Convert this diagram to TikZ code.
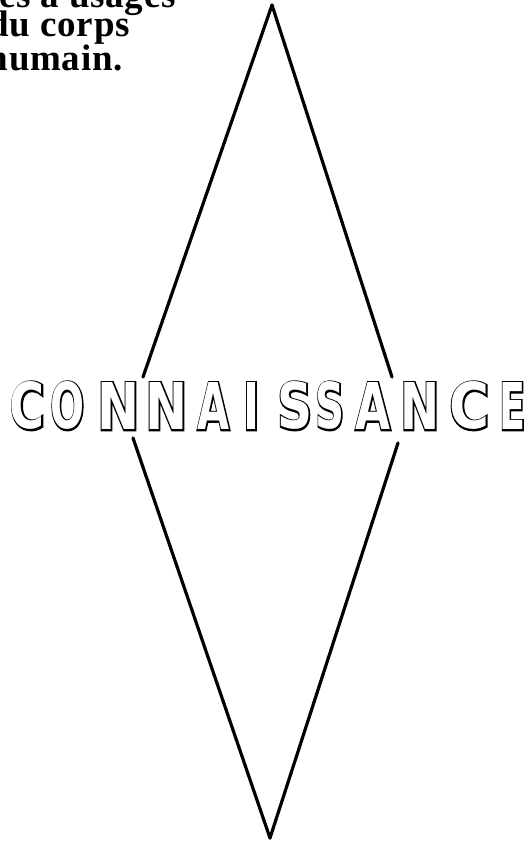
\documentclass[tikz,border=0pt]{standalone}
\usepackage{fontspec}
\setmainfont{Liberation Serif}
\newfontfamily\capsfont{DejaVu Sans Condensed Bold}
\newfontfamily\capsbold[FakeBold=5]{DejaVu Sans Condensed Bold}
\tikzset{
  side/.style={line width=3.2pt, line cap=round},
  topline/.style={font=\bfseries\fontsize{37}{32}\selectfont\addfontfeature{LetterSpace=2}, inner sep=0pt},
  letterback/.style={inner sep=0pt, anchor=south, text=black},
  letterfront/.style={inner sep=0pt, anchor=south, text=white}
}
\newcommand{\ltb}[2]{\resizebox{#1pt}{47pt}{\capsbold #2}}
\newcommand{\ltf}[2]{\resizebox{#1pt}{47pt}{\capsfont #2}}
\newcommand{\hollow}[4]{%
  \node[letterback] (#1b) at (#2,430) {\ltb{#3}{#4}};
  \node[letterfront] (#1) at (#2,430) {\ltf{#3}{#4}};}
\begin{document}
\begin{tikzpicture}[x=1pt,y=-1pt]
\useasboundingbox (0,0) rectangle (525,844);
\fill[white] (0,0) rectangle (525,844);
% top text (cropped at left and top)
\node[topline, anchor=base east] (t1) at (176,7) {es à usages};
\node[topline, anchor=base east] (t2) at (130,36) {du corps};
\node[topline, anchor=base east] (t3) at (123,70) {humain.};
% diamond sides
\coordinate (top) at (272,5);
\coordinate (ul) at (143,377);
\coordinate (ur) at (392,377);
\coordinate (ll) at (133,438);
\coordinate (lr) at (398,443);
\coordinate (bot) at (270,838);
\draw[side] (top) -- (ul);
\draw[side] (top) -- (ur);
\draw[side] (ll) -- (bot);
\draw[side] (lr) -- (bot);
% CONNAISSANCE (hollow letters)
\hollow{c1}{27.5}{35}{C}
\hollow{c2}{67.5}{34}{O}
\hollow{c3}{118.5}{42}{N}
\hollow{c4}{166.5}{42}{N}
\hollow{c5}{213.5}{32}{A}
\hollow{c6}{251.5}{16}{I}
\hollow{c7}{295}{35}{S}
\hollow{c8}{330}{29}{S}
\hollow{c9}{373}{35}{A}
\hollow{c10}{420}{39}{N}
\hollow{c11}{469.5}{40}{C}
\hollow{c12}{512.5}{26}{E}
\end{tikzpicture}
\end{document}
